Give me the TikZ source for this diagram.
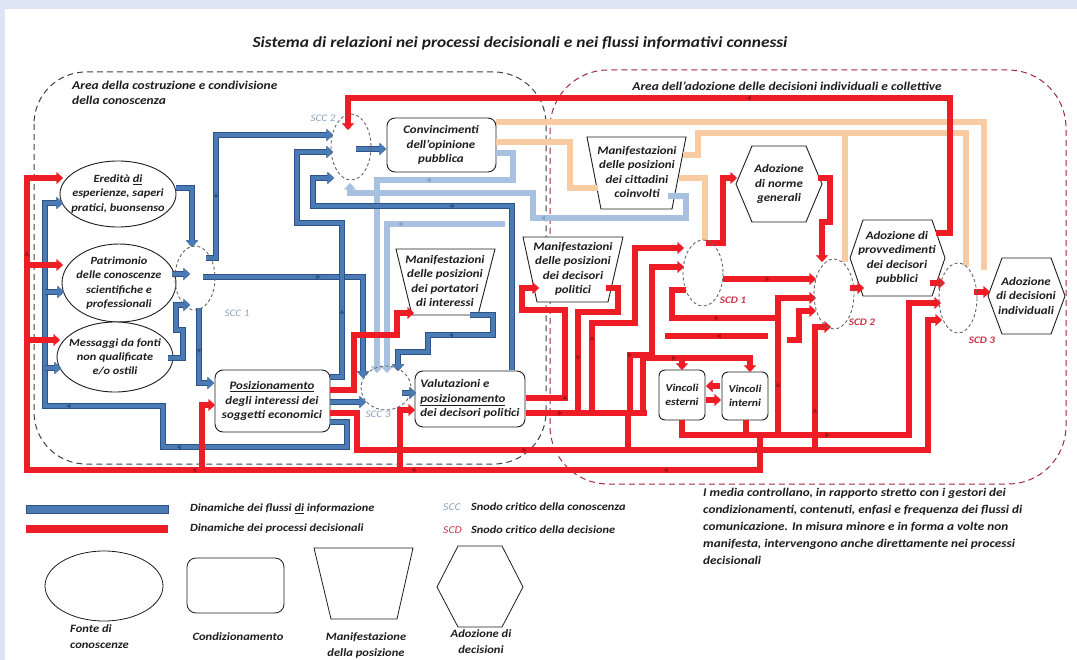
\documentclass[tikz,border=0pt]{standalone}
\usepackage{fontspec}
\setmainfont{Carlito}[FakeStretch=1.12]
\usetikzlibrary{arrows.meta,decorations.markings}

\definecolor{bgband}{HTML}{DCE6F2}
\definecolor{infoblue}{HTML}{4A7BB5}
\definecolor{infoedge}{HTML}{2C5287}
\definecolor{lightinfo}{HTML}{A9C1E0}
\definecolor{peach}{HTML}{F8CBA2}
\definecolor{decred}{HTML}{EE1C24}
\definecolor{decdark}{HTML}{A3141A}
\definecolor{areared}{HTML}{9E2A3C}
\definecolor{areagray}{HTML}{404040}
\definecolor{scctext}{HTML}{8AA2C2}
\definecolor{scdtext}{HTML}{C8364A}
\definecolor{ink}{HTML}{1E1E1E}

\newcommand\hexoutline[5]{%
  \draw[shp] (#1,{(#2+#4)/2}) -- ({#1+#5},#2) -- ({#3-#5},#2) -- (#3,{(#2+#4)/2})
    -- ({#3-#5},#4) -- ({#1+#5},#4) -- cycle;}

\begin{document}
\begin{tikzpicture}[x=1pt,y=-1pt,
  lbl/.style={font=\bfseries\itshape\fontsize{11.5}{14.4}\selectfont, text=ink, align=center, inner sep=0pt},
  ell/.style={lbl, font=\bfseries\itshape\fontsize{11}{14.2}\selectfont},
  leg/.style={font=\bfseries\itshape\fontsize{11}{14}\selectfont, text=ink, inner sep=0pt, align=center},
  shp/.style={draw=ink, line width=0.9pt, fill=white},
  legshp/.style={draw=ink, line width=0.8pt, fill=white},
  snodo/.style={draw=black!60, line width=0.9pt, dash pattern=on 3pt off 2.5pt},
  arr/.style={-{Triangle[length=6.5pt,width=12pt,line width=0.4pt]}},
  info/.style={line width=4.8pt, draw=infoblue, preaction={draw=infoedge, line width=6.8pt}},
  linfo/.style={line width=6.5pt, draw=lightinfo},
  pch/.style={line width=6.5pt, draw=peach},
  dec/.style={line width=6.8pt, draw=decred},
  midb/.style={postaction={decorate,decoration={markings,
     mark=at position #1 with {\arrow[infoedge]{Latex[length=4pt,width=5pt,line width=0.3pt]}}}}},
  midr/.style={postaction={decorate,decoration={markings,
     mark=at position #1 with {\arrow[decdark]{Latex[length=4pt,width=5pt,line width=0.3pt]}}}}},
  midl/.style={postaction={decorate,decoration={markings,
     mark=at position #1 with {\arrow[infoblue!70]{Latex[length=4pt,width=5pt,line width=0.3pt]}}}}},
  midb/.default=0.5, midr/.default=0.5, midl/.default=0.5
]
\useasboundingbox (0,0) rectangle (1077,660);
\fill[bgband] (0,0) rectangle (1077,660);
\fill[white] (5,9) rectangle (1077,660);

% ---------- title ----------
\node[font=\bfseries\itshape\fontsize{15.5}{18}\selectfont, text=ink] (title) at (520,43)
  {Sistema di relazioni nei processi decisionali e nei flussi informativi connessi};

% ---------- the two areas ----------
\draw[draw=areagray, line width=1pt, dash pattern=on 6pt off 4pt, rounded corners=52pt]
  (34,72) rectangle (546,464);
\draw[draw=areared, line width=1pt, dash pattern=on 6pt off 4pt, rounded corners=58pt]
  (550,70) rectangle (1066,484);
\node[leg, anchor=north west, align=left, font=\bfseries\itshape\fontsize{12}{15}\selectfont] (areaL) at (72,81)
  {Area della costruzione e condivisione\\della conoscenza};
\node[leg, font=\bfseries\itshape\fontsize{12}{15}\selectfont] (areaR) at (787,86) {Area dell'adozione delle decisioni individuali e collettive};

% ---------- outlines of the boxes ----------
\draw[shp] (118,194) ellipse [x radius=58, y radius=33];
\draw[shp] (119,283) ellipse [x radius=57, y radius=39];
\draw[shp] (115,357) ellipse [x radius=58, y radius=35];
\draw[shp, rounded corners=8pt] (387,118) rectangle (496,172);
\draw[shp, rounded corners=8pt] (215,370) rectangle (330,432);
\draw[shp, rounded corners=8pt] (415,371) rectangle (525,427);
\draw[shp, rounded corners=6pt] (659,370) rectangle (705,420);
\draw[shp, rounded corners=6pt] (722,372) rectangle (768,420);
\draw[shp] (396,249) -- (495,249) -- (478,315) -- (412,315) -- cycle;
\draw[shp] (523,237) -- (623,237) -- (608,302) -- (537,302) -- cycle;
\draw[shp] (587,137) -- (686,137) -- (672,209) -- (601,209) -- cycle;
\hexoutline{736}{146}{822}{222}{16}
\hexoutline{850}{220}{945}{296}{13}
\hexoutline{988}{258}{1065}{334}{14}

% ---------- flows towards the citizens (peach) ----------
\draw[pch] (496,122) -- (984,122) -- (984,270);
\draw[pch] (496,142) -- (570,142) -- (570,188) -- (598,188);
\draw[pch] (683,155) -- (698,155) -- (698,133) -- (966,133) -- (966,266);
\draw[pch] (845,133) -- (845,262);
\draw[pch] (679,178) -- (705,178) -- (705,240);

% ---------- secondary information flows (light blue) ----------
\draw[linfo,arr,midl=0.35] (496,153) -- (513,153) -- (513,180) -- (377,180) -- (377,373);
\draw[linfo,arr,midl=0.45] (668,196) -- (686,196) -- (686,218) -- (533,218) -- (533,193) -- (350,193) -- (350,183);
\draw[linfo,arr,midl=0.4] (505,224) -- (387,224) -- (387,373);

% ---------- information flows (blue) ----------
\draw[info,arr] (176,188) -- (192,188) -- (192,247);
\draw[info,arr] (172,274) -- (190,274);
\draw[info,arr] (168,358) -- (183,358) -- (183,330) -- (176,330) -- (176,305) -- (190,305);
\draw[info,arr,midb=0.3] (206,258) -- (216,258) -- (216,135) -- (333,135);
\draw[info,arr,midb=0.45] (203,277) -- (363,277) -- (363,378);
\draw[info,arr,midb=0.5] (199,308) -- (199,383) -- (214,383);
\draw[info,arr,midb=0.25] (330,377) -- (342,377) -- (342,223) -- (297,223) -- (297,152) -- (333,152);
\draw[info,arr,midb=0.35,midb=0.6] (330,422) -- (347,422) -- (347,447) -- (163,447) -- (163,406)
  -- (45,406) -- (45,203) -- (63,203);
\draw[info,arr] (45,292) -- (64,292);
\draw[info,arr] (45,368) -- (61,368);
\draw[info,arr] (330,402) -- (366,402);
\draw[info,arr] (402,393) -- (416,393);
\draw[info,arr,midb=0.5] (470,315) -- (493,315) -- (493,335) -- (428,335) -- (428,352) -- (398,352) -- (398,371);
\draw[info,arr,midb=0.55] (512,370) -- (512,206) -- (313,206) -- (313,178) -- (334,178);
\draw[info,arr] (356,149) -- (386,149);

% ---------- decision flows (red) ----------
\draw[dec,arr,midr=0.45] (936,233) -- (950,233) -- (950,98) -- (348,98) -- (348,130);
\draw[dec,arr] (706,243) -- (723,243) -- (723,178) -- (737,178);
\draw[dec,arr] (818,178) -- (830,178) -- (830,222) -- (822,222) -- (822,262);
\draw[dec,arr] (850,288) -- (864,288);
\draw[dec,arr] (930,283) -- (945,283);
\draw[dec,arr] (974,292) -- (990,292);
\draw[dec,arr,midr=0.5] (723,279) -- (816,279);
\draw[dec,arr,midr=0.4] (682,420) -- (682,435) -- (909,435) -- (909,303) -- (941,303);
\draw[dec] (746,420) -- (746,435);
\draw[dec,arr,midr=0.3,midr=0.6] (330,413) -- (357,413) -- (357,450) -- (928,450) -- (928,320) -- (942,320);
\draw[dec,arr,midr=0.12,midr=0.35,midr=0.55,midr=0.9] (760,435) -- (760,470) -- (27,470) -- (27,178) -- (63,178);
\draw[dec,arr] (27,265) -- (63,265);
\draw[dec,arr] (27,340) -- (60,340);
\draw[dec,arr] (202,470) -- (202,405) -- (215,405);
\draw[dec,arr] (400,470) -- (400,410) -- (415,410);
\draw[dec,arr] (330,390) -- (354,390) -- (354,335) -- (397,335) -- (397,313) -- (414,313);
\draw[dec,arr,midr=0.2] (526,398) -- (565,398) -- (565,310) -- (522,310) -- (522,288) -- (539,288);
\draw[dec,midr=0.7] (606,288) -- (618,288) -- (618,312) -- (578,312) -- (578,413);
\draw[dec,arr,midr=0.3] (592,413) -- (592,323) -- (635,323) -- (635,248) -- (684,248);
\draw[dec,arr,midr=0.3] (630,413) -- (630,355) -- (652,355) -- (652,267) -- (684,267);
\draw[dec,midr=0.6] (686,290) -- (672,290) -- (672,318) -- (778,318);
\draw[dec,arr,midr=0.3] (778,435) -- (778,298) -- (816,298);
\draw[dec,arr] (787,340) -- (799,340) -- (799,311) -- (816,311);
\draw[dec,midr=0.5] (768,336) -- (665,336);
\draw[dec,arr,midr=0.3] (815,450) -- (815,327) -- (831,327);
\draw[dec,arr,midr=0.5] (643,413) -- (643,358) -- (750,358) -- (750,372);
\draw[dec,arr] (682,358) -- (682,370);
\draw[dec,arr] (720,386) -- (706,386);
\draw[dec,arr] (706,400) -- (721,400);
\draw[dec,midr=0.3] (526,413) -- (647,413);
\draw[dec] (628,413) -- (628,450);

% ---------- critical nodes ----------
\draw[snodo] (195,278) ellipse [x radius=20, y radius=32];
\draw[snodo] (351,147) ellipse [x radius=20, y radius=33];
\draw[snodo] (386,388) ellipse [x radius=25, y radius=22];
\draw[snodo] (703,273) ellipse [x radius=20, y radius=33];
\draw[snodo] (834,294) ellipse [x radius=20, y radius=35];
\draw[snodo] (958,298) ellipse [x radius=19, y radius=35];
\node[font=\itshape\fontsize{10}{12}\selectfont, text=scctext] (scc1) at (237,313) {SCC 1};
\node[font=\itshape\fontsize{10}{12}\selectfont, text=scctext] (scc2) at (323,118) {SCC 2};
\node[font=\itshape\fontsize{10}{12}\selectfont, text=scctext] (scc3) at (378,414) {SCC 3};
\node[font=\bfseries\itshape\fontsize{10}{12}\selectfont, text=scdtext] (scd1) at (733,300) {SCD 1};
\node[font=\bfseries\itshape\fontsize{10}{12}\selectfont, text=scdtext] (scd2) at (862,322) {SCD 2};
\node[font=\bfseries\itshape\fontsize{10}{12}\selectfont, text=scdtext] (scd3) at (982,340) {SCD 3};

% ---------- texts of the boxes ----------
\node[ell] (ered) at (118,194) {Eredità \underline{di}\\esperienze, saperi\\pratici, buonsenso};
\node[ell] (patr) at (119,283) {Patrimonio\\delle conoscenze\\scientifiche e\\professionali};
\node[ell] (mess) at (115,357) {Messaggi da fonti\\non qualificate\\e/o ostili};
\node[lbl] (conv) at (441,145) {Convincimenti\\dell'opinione\\pubblica};
\node[lbl] (posz) at (272,401) {\underline{Posizionamento}\\degli interessi dei\\soggetti economici};
\node[lbl, align=left] (valt) at (470,399) {Valutazioni e\\\underline{posizionamento}\\dei decisori politici};
\node[lbl] (mpor) at (445,281) {Manifestazioni\\delle posizioni\\dei portatori\\di interessi};
\node[lbl] (mdec) at (573,269) {Manifestazioni\\delle posizioni\\dei decisori\\politici};
\node[lbl] (mcit) at (637,172) {Manifestazioni\\delle posizioni\\dei cittadini\\coinvolti};
\node[lbl] (norm) at (779,184) {Adozione\\di norme\\generali};
\node[lbl] (prov) at (897,258) {Adozione di\\provvedimenti\\dei decisori\\pubblici};
\node[lbl] (indv) at (1026,296) {Adozione\\di decisioni\\individuali};
\node[lbl, font=\bfseries\itshape\fontsize{10.5}{13.5}\selectfont] (vest) at (682,395) {Vincoli\\esterni};
\node[lbl, font=\bfseries\itshape\fontsize{10.5}{13.5}\selectfont] (vint) at (745,396) {Vincoli\\interni};

% ---------- legend ----------
\draw[draw=infoedge, fill=infoblue, line width=1pt] (26,505) rectangle (168,513);
\fill[decred] (26,525) rectangle (168,533);
\node[leg, anchor=west] (legB) at (190,509) {Dinamiche dei flussi \underline{di} informazione};
\node[leg, anchor=west] (legR) at (190,529) {Dinamiche dei processi decisionali};
\node[font=\itshape\fontsize{10.5}{13}\selectfont, text=scctext, anchor=west, inner sep=0pt] (legSCC) at (443,507) {SCC};
\node[font=\itshape\fontsize{10.5}{13}\selectfont, text=scdtext, anchor=west, inner sep=0pt] (legSCD) at (443,530) {SCD};
\node[leg, anchor=west] (legSCCt) at (471,507) {Snodo critico della conoscenza};
\node[leg, anchor=west] (legSCDt) at (471,530) {Snodo critico della decisione};
\node[leg, anchor=north west, align=left, font=\bfseries\itshape\fontsize{11.8}{17}\selectfont] (media) at (703,488)
  {I media controllano, in rapporto stretto con i gestori dei\\
   condizionamenti, contenuti, enfasi e frequenza dei flussi di\\
   comunicazione. In misura minore e in forma a volte non\\
   manifesta, intervengono anche direttamente nei processi\\
   decisionali};

\draw[legshp] (104,586) ellipse [x radius=59, y radius=35];
\draw[legshp, rounded corners=9pt] (187,558) rectangle (284,613);
\draw[legshp] (314,548) -- (413,548) -- (397,619) -- (331,619) -- cycle;
\draw[legshp] (437,587) -- (458,546) -- (502,546) -- (523,587) -- (502,627) -- (458,627) -- cycle;
\node[leg, anchor=west, align=left, font=\bfseries\itshape\fontsize{11.2}{16}\selectfont] (legS1) at (70,637) {Fonte di\\conoscenze};
\node[leg, font=\bfseries\itshape\fontsize{11.2}{16}\selectfont] (legS2) at (238,637) {Condizionamento};
\node[leg, font=\bfseries\itshape\fontsize{11.2}{16}\selectfont] (legS3) at (366,645) {Manifestazione\\della posizione};
\node[leg, font=\bfseries\itshape\fontsize{11.2}{16}\selectfont] (legS4) at (481,642) {Adozione di\\decisioni};
\end{tikzpicture}
\end{document}
